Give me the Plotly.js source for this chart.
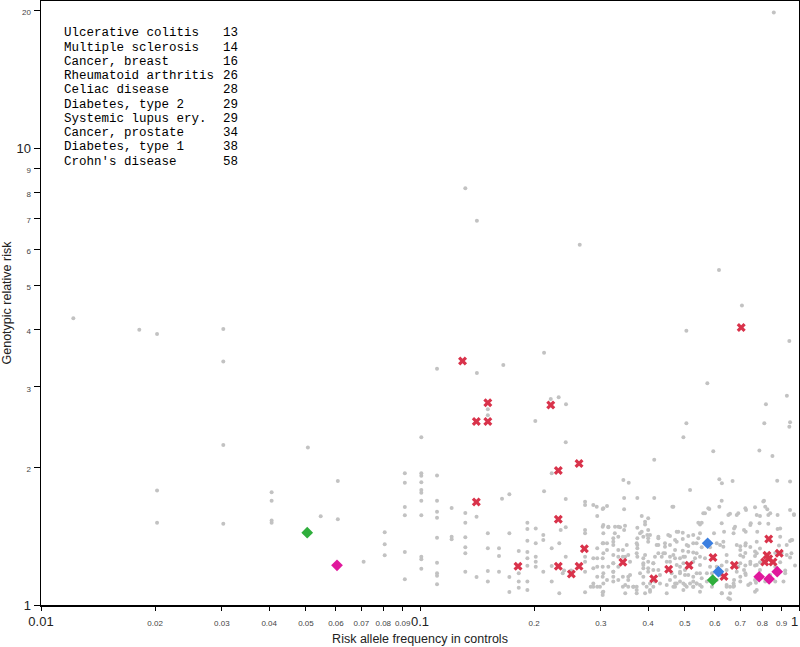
<!DOCTYPE html>
<html>
<head>
<meta charset="utf-8">
<script src="https://cdn.plot.ly/plotly-3.0.1.min.js"></script>
<style>html,body{margin:0;padding:0;background:#fff;}#chart{width:800px;height:647px;}</style>
</head>
<body>
<div id="chart"></div>
<script>
// ---- Data ----
const diseases = ['Ulcerative colitis','Multiple sclerosis','Cancer, breast','Rheumatoid arthritis','Celiac disease','Diabetes, type 2','Systemic lupus ery.','Cancer, prostate','Diabetes, type 1',"Crohn's disease"];
const diseaseCounts = [13,14,16,26,28,29,29,34,38,58];

// all other associations (gray)
const grayFreq = [
0.858,0.1317,0.1413,0.2639,0.615,0.707,0.5045,0.943,0.1109,0.1413,0.1659,0.2125,0.573,0.151,0.151,0.2213,0.2322,0.2428,0.2015,0.818,0.929,0.5045,0.81,0.947,0.943,0.1008,0.4954,0.2424,0.415,0.594,0.786,0.851,
0.01217,0.01817,0.02024,0.03027,0.03027,0.03027,0.0506,0.02024,0.02024,0.03027,0.0406,0.0406,0.0406,0.0406,0.0547,0.0607,0.0607,0.0710,0.0807,0.0807,0.0807,0.0912,0.0912,0.0912,0.0912,0.0912,0.0912,
0.1008,0.1008,0.1008,0.1008,0.1008,0.1008,0.1008,0.1008,0.1008,0.1008,
0.1109,0.1109,0.1109,0.1109,0.1109,0.1109,0.1109,0.1109,0.1109,
0.1212,0.1212,0.1212,0.1317,0.1317,0.1317,0.1317,0.1317,0.1317,0.141,0.141,0.151,0.151,0.151,0.151,0.1616,0.1616,0.1616,0.1646,0.1721,0.1721,0.1721,0.1721,0.1822,0.1822,0.1822,0.1822,
0.192,0.192,0.192,0.192,0.192,0.192,0.192,0.192,
0.2125,0.2424,0.2226,0.344,0.3554,0.3745,0.415,0.3456,0.2726,0.2726,0.2866,0.2926,0.3034,0.3115,0.3456,0.2935,0.202,0.2424,0.2351,0.2726,0.2726,0.3034,0.314,0.327,0.3372,0.3475,0.3456,0.2115,0.2115,0.202,0.202,0.202,0.202,0.2115,0.2226,0.2226,0.2331,0.2226,0.2331,0.2424,0.24,0.238,0.2505,0.2726,0.2726,0.2726,0.2866,0.2866,0.2866,0.2866,0.2726,0.2935,0.3034,0.3034,0.2935,0.3034,0.3115,0.3115,0.2935,0.3034,0.2935,0.3034,0.314,0.2935,0.3034,0.3115,0.3236,0.3336,0.3236,0.3336,0.343,0.3336,0.343,0.3544,0.3236,0.3336,0.3236,0.3236,0.3336,0.343,0.3544,0.3544,0.343,0.3544,0.3654,0.373,0.373,0.3925,0.4045,0.4045,0.3745,0.3884,0.3979,0.4,0.3745,0.3745,0.3745,0.3884,0.3884,0.4,0.4127,0.3884,0.4,0.3884,0.4127,0.4255,0.4255,0.4255,0.4255,0.4343,0.3846,0.3925,0.4,0.3745,0.3846,0.4,
0.6163,0.626,0.668,0.5159,0.876,0.947,0.4633,0.6252,0.6163,0.58,0.5649,0.5424,0.5537,0.8086,0.8145,0.8249,0.83,0.789,0.7655,0.7248,0.6915,0.6577,0.878,0.947,0.97,0.7459,0.787,0.83,0.878,0.6252,0.674,0.716,0.4803,0.4935,0.4567,0.471,0.4567,0.443,0.4935,0.5105,0.526,0.5424,0.526,0.5105,0.471,0.4935,0.5105,0.526,0.5537,0.5825,0.6066,0.6191,0.6316,0.443,0.4567,0.471,0.4567,0.4853,0.5003,0.5317,0.548,0.5649,
0.4853,0.5003,0.4853,0.5003,0.471,0.4567,0.471,0.4853,0.5003,0.5159,0.526,0.5369,0.5537,0.5714,0.5894,0.526,0.548,0.5714,0.5537,0.6442,0.6577,0.674,0.70,0.7218,0.7655,0.77,0.6252,0.6577,0.789,0.8145,0.789,0.7655,0.789,0.744,0.7218,0.7655,0.789,0.7218,0.744,0.7655,0.70,0.70,0.7218,0.70,0.8657,0.892,0.9195,0.947,0.976,0.947,0.8657,0.8855,0.90,
0.4298,0.4661,0.4757,0.5055,0.526,0.5369,0.626,0.671,0.744,0.7655,0.3963,0.4127,0.2822,0.2985,0.97,0.96,0.91,0.955,0.6066,0.6442,0.6191,0.5825,0.5894,0.6066,0.674,0.6915,0.716,0.8397,0.8657,0.6442,0.6252,
0.3046,0.4661,0.5765,0.7218,0.805,0.559,0.651,0.685,0.7735,0.8397,
0.3046,0.314,0.3336,0.3925,0.548,0.678,0.744,0.892,
0.3046,0.3266,0.3807,0.4045,0.4255,0.4519,0.4757,0.548,0.5967,0.6343,0.672,0.7233,0.776,0.892,0.955,
0.3046,0.3236,0.3512,0.373,0.4,0.4211,0.443,0.4757,0.5055,0.5369,0.6316,0.685,0.7233,0.7735,0.928,
0.3046,0.3236,0.348,0.373,0.3925,0.4169,0.4385,0.4661,0.4954,0.5369,0.6442,0.7129,0.7735,0.928,
0.3236,0.3583,0.3884,0.4127,0.4477,0.4757,0.4954,0.526,0.548,0.700,0.744,0.7735,
0.3046,0.3236,0.3583,0.3807,0.4,0.4298,0.4613,0.4853,0.5105,0.5369,0.685,0.7233,0.9195,
0.3046,0.3236,0.348,0.3654,0.3884,0.4169,0.4477,0.471,0.4954,0.526,0.548,0.6442,0.672,0.700,0.7347,
0.3046,0.348,0.373,0.4045,0.4477,0.4954,0.548,0.6577,0.7735,0.651
];
const grayRisk = [
19.8,8.16,6.93,6.14,5.41,4.52,3.98,3.78,3.29,3.22,3.35,3.565,3.055,2.68,2.60,2.824,2.85,2.75,2.527,2.75,2.87,2.50,2.50,2.51,2.456,2.328,2.328,2.27,2.08,2.17,2.177,2.118,
4.24,4.00,3.92,4.02,3.41,2.24,2.21,1.78,1.514,1.506,1.765,1.69,1.53,1.514,1.563,1.868,1.54,1.244,1.442,1.358,1.285,1.942,1.852,1.639,1.571,1.306,1.138,
1.942,1.917,1.856,1.785,1.76,1.69,1.571,1.276,1.26,1.20,
1.921,1.69,1.60,1.553,1.404,1.238,1.173,1.159,1.11,
1.63,1.411,1.393,1.590,1.514,1.406,1.338,1.298,1.183,1.56,1.152,1.435,1.331,1.187,1.125,1.331,1.28,1.183,1.709,1.747,1.435,1.152,1.068,1.313,1.173,1.125,1.091,
1.514,1.466,1.383,1.306,1.265,1.219,1.125,1.078,
1.773,1.706,1.942,1.877,1.852,1.714,1.714,1.714,1.683,1.655,1.655,1.641,1.622,1.647,1.62,1.566,1.471,1.479,1.459,1.459,1.435,1.483,1.479,1.483,1.479,1.49,1.459,1.423,1.388,1.365,1.276,1.244,1.213,1.183,1.331,1.217,1.365,1.125,1.061,1.276,1.19,1.173,1.19,1.276,1.244,1.183,1.265,1.203,1.115,1.097,1.066,1.097,1.066,1.052,1.331,1.365,1.365,1.319,1.265,1.265,1.213,1.213,1.213,1.153,1.153,1.134,1.40,1.411,1.353,1.319,1.319,1.276,1.276,1.287,1.234,1.213,1.183,1.153,1.134,1.153,1.153,1.134,1.097,1.097,1.097,1.097,1.061,1.061,1.078,1.115,1.40,1.411,1.423,1.40,1.353,1.331,1.276,1.265,1.234,1.244,1.234,1.203,1.203,1.153,1.193,1.193,1.40,1.353,1.298,1.276,1.566,1.521,1.548,1.476,1.447,1.459,
1.884,1.846,1.868,1.785,1.871,1.862,1.641,1.69,1.641,1.622,1.587,1.514,1.514,1.69,1.641,1.62,1.574,1.566,1.636,1.614,1.587,1.583,1.574,1.614,1.574,1.509,1.509,1.505,1.467,1.509,1.47,1.459,1.447,1.44,1.416,1.388,1.353,1.341,1.394,1.416,1.423,1.40,1.365,1.346,1.319,1.315,1.308,1.302,1.338,1.338,1.365,1.353,1.341,1.298,1.276,1.265,1.244,1.265,1.276,1.265,1.276,1.265,
1.213,1.193,1.173,1.163,1.153,1.134,1.115,1.125,1.106,1.115,1.097,1.115,1.097,1.125,1.097,1.153,1.173,1.173,1.144,1.106,1.097,1.10,1.153,1.173,1.134,1.119,1.061,1.029,1.153,1.125,1.193,1.22,1.24,1.23,1.22,1.28,1.33,1.35,1.34,1.31,1.345,1.32,1.30,1.285,1.125,1.24,1.19,1.38,1.22,1.27,1.30,1.35,1.30,
1.115,1.097,1.115,1.097,1.097,1.115,1.061,1.097,1.115,1.069,1.097,1.097,1.097,1.097,1.58,1.387,1.125,1.298,1.213,1.193,1.163,1.213,1.173,1.134,1.134,1.213,1.193,1.163,1.213,1.244,1.22,
1.628,1.641,1.628,1.628,1.684,1.587,1.574,1.574,1.574,1.587,
1.497,1.484,1.484,1.50,1.50,1.484,1.497,1.47,
1.435,1.435,1.435,1.423,1.411,1.423,1.447,1.435,1.435,1.447,1.435,1.447,1.447,1.411,1.388,
1.365,1.376,1.353,1.365,1.376,1.353,1.365,1.376,1.353,1.365,1.376,1.353,1.365,1.376,1.353,
1.298,1.287,1.276,1.298,1.287,1.276,1.298,1.287,1.276,1.298,1.287,1.276,1.298,1.287,
1.234,1.244,1.223,1.234,1.244,1.223,1.234,1.244,1.223,1.234,1.244,1.223,
1.173,1.183,1.163,1.173,1.183,1.163,1.173,1.183,1.163,1.173,1.183,1.163,1.173,
1.115,1.125,1.106,1.097,1.115,1.125,1.106,1.097,1.115,1.125,1.106,1.097,1.115,1.125,1.106,
1.069,1.061,1.078,1.069,1.061,1.078,1.069,1.061,1.078,1.034
];

// highlighted associations (red crosses)
const redFreq = [0.1295,0.151,0.1408,0.151,0.2213,0.704,0.2317,0.2628,0.1408,0.2317,0.2715,0.1814,0.2317,0.2628,0.2508,0.343,0.4137,0.453,0.5127,0.593,0.634,0.675,0.832,0.823,0.832,0.812,0.854,0.887];
const redRisk = [3.42,2.77,2.52,2.52,2.74,4.05,1.97,2.04,1.68,1.54,1.328,1.215,1.215,1.215,1.169,1.240,1.142,1.197,1.221,1.271,1.155,1.221,1.394,1.285,1.263,1.242,1.242,1.298];

const blueFreq = [0.574,0.613];
const blueRisk = [1.365,1.183];
const greenFreq = [0.0504,0.592];
const greenRisk = [1.44,1.134];
const magentaFreq = [0.0604,0.785,0.834,0.876];
const magentaRisk = [1.221,1.153,1.140,1.183];

// tick labels
const xTickVals = [0.01,0.02,0.03,0.04,0.05,0.06,0.07,0.08,0.09,0.1,0.2,0.3,0.4,0.5,0.6,0.7,0.8,0.9,1];
const xTickLabels = ['0.01','0.02','0.03','0.04','0.05','0.06','0.07','0.08','0.09','0.1','0.2','0.3','0.4','0.5','0.6','0.7','0.8','0.9','1'];
const xMajor = ['0.01','0.1','1'];
const yTickVals = [1,2,3,4,5,6,7,8,9,10,20];
const yTickLabels = ['1','2','3','4','5','6','7','8','9','10','20'];
const yMajor = ['1','10'];

function fmt(lbl, majors){
  return majors.includes(lbl)
    ? '<span style="font-size:13px;fill:#222">'+lbl+'</span>'
    : '<span style="font-size:8px;fill:#444">'+lbl+'</span>';
}
// the last x label sits on the right edge of the picture; it is drawn as an
// annotation aligned to the edge so that it is not cut off
const lastX = xTickLabels.length - 1;
const xTickText = xTickLabels.map((l,i) => i === lastX ? '' : fmt(l, xMajor));

const traces = [
  {x: grayFreq, y: grayRisk, type:'scatter', mode:'markers',
   marker:{symbol:'circle', size:4, color:'#c2c2c2'}, hoverinfo:'skip'},
  {x: redFreq, y: redRisk, type:'scatter', mode:'markers',
   marker:{symbol:'x', size:8, color:'#d9334b', line:{width:0}}},
  {x: blueFreq, y: blueRisk, type:'scatter', mode:'markers',
   marker:{symbol:'diamond', size:9, color:'#3b7fe0'}},
  {x: greenFreq, y: greenRisk, type:'scatter', mode:'markers',
   marker:{symbol:'diamond', size:9, color:'#2fae3c'}},
  {x: magentaFreq, y: magentaRisk, type:'scatter', mode:'markers',
   marker:{symbol:'diamond', size:9, color:'#e0189c'}}
];

const L = 41, T = 1, plotH = 604, plotW = 758;
const annotations = [];
diseases.forEach((d, i) => {
  const yPx = 33.3 + 14.27 * i;
  const yp = 1 - (yPx - T) / plotH;
  annotations.push({xref:'paper', yref:'paper', x:(61.7-L)/plotW, y:yp, xanchor:'left', yanchor:'middle',
    text:d, showarrow:false, font:{family:'Liberation Mono, Courier New, monospace', size:12.5, color:'#000'}});
  annotations.push({xref:'paper', yref:'paper', x:(220.7-L)/plotW, y:yp, xanchor:'left', yanchor:'middle',
    text:String(diseaseCounts[i]), showarrow:false, font:{family:'Liberation Mono, Courier New, monospace', size:12.5, color:'#000'}});
});
annotations.push({xref:'paper', yref:'paper', x:1, y:0, xanchor:'right', yanchor:'middle', yshift:-16, xshift:1,
  text:xTickLabels[lastX], showarrow:false, font:{family:'Liberation Sans, Arial, sans-serif', size:13, color:'#222'}});

const layout = {
  width:800, height:647,
  margin:{l:41, r:1, t:1, b:42, pad:0},
  paper_bgcolor:'#fff', plot_bgcolor:'#fff',
  showlegend:false,
  font:{family:'Liberation Sans, Arial, sans-serif', color:'#222'},
  xaxis:{type:'log', range:[-2,0], tickmode:'array', tickvals:xTickVals,
    ticktext:xTickText, ticks:'outside', ticklen:4, tickcolor:'#000',
    showline:true, linecolor:'#000', linewidth:1.5, mirror:true, showgrid:false, zeroline:false,
    tickfont:{size:13, family:'Liberation Sans, Arial, sans-serif'}, tickangle:0,
    title:{text:'Risk allele frequency in controls', font:{size:12.5, color:'#222'}, standoff:6}, automargin:false},
  yaxis:{type:'log', range:[0,1.3217], tickmode:'array', tickvals:yTickVals,
    ticktext:yTickLabels.map(l=>fmt(l,yMajor)), ticks:'outside', ticklen:6, tickcolor:'#000',
    showline:true, linecolor:'#000', linewidth:1.5, mirror:true, showgrid:false, zeroline:false,
    tickfont:{size:13, family:'Liberation Sans, Arial, sans-serif'}, ticklabeloverflow:'allow',
    title:{text:'Genotypic relative risk', font:{size:12.5, color:'#222'}, standoff:4}, automargin:false},
  annotations: annotations
};

Plotly.newPlot('chart', traces, layout, {displayModeBar:false, staticPlot:true});
</script>
</body>
</html>
